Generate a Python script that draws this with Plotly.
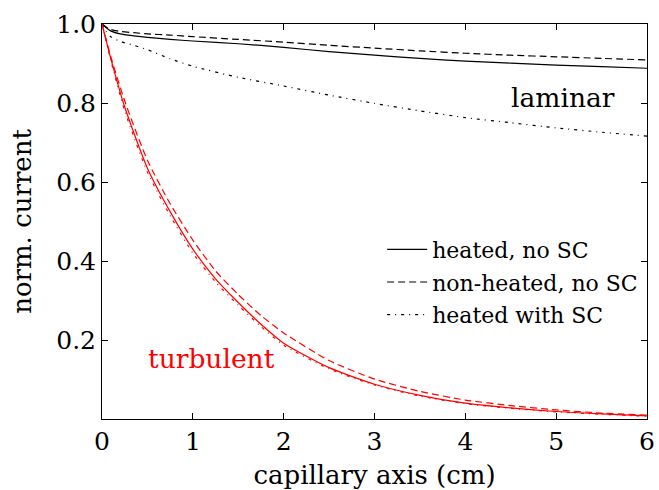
import plotly.graph_objects as go

# ---- data ----
x_lam = [0, 0.05, 0.1, 0.2, 0.35, 0.5, 0.75, 1, 1.5, 2, 2.5, 3, 3.5, 4, 4.5, 5, 5.5, 6]
heated_noSC = [1.0, 0.99, 0.982, 0.975, 0.970, 0.966, 0.961, 0.957, 0.950, 0.941, 0.930, 0.921, 0.913, 0.906, 0.901, 0.896, 0.892, 0.888]
nonheated_noSC = [1.0, 0.992, 0.986, 0.981, 0.978, 0.975, 0.972, 0.968, 0.961, 0.954, 0.946, 0.939, 0.932, 0.926, 0.921, 0.917, 0.913, 0.909]
heated_SC = [1.0, 0.98, 0.967, 0.956, 0.946, 0.935, 0.912, 0.893, 0.865, 0.843, 0.820, 0.799, 0.780, 0.763, 0.750, 0.737, 0.726, 0.716]

x_turb = [0, 0.1, 0.25, 0.5, 0.75, 1, 1.25, 1.5, 1.75, 2, 2.5, 3, 3.5, 4, 4.5, 5, 5.5, 6]
turb_heated_noSC = [1.0, 0.91, 0.79, 0.635, 0.525, 0.43, 0.355, 0.295, 0.24, 0.192, 0.13, 0.088, 0.06, 0.040, 0.028, 0.019, 0.013, 0.008]
turb_nonheated_noSC = [1.0, 0.915, 0.805, 0.655, 0.545, 0.453, 0.375, 0.315, 0.262, 0.218, 0.148, 0.101, 0.07, 0.048, 0.034, 0.023, 0.015, 0.010]
turb_heated_SC = [1.0, 0.905, 0.78, 0.625, 0.515, 0.42, 0.347, 0.288, 0.234, 0.187, 0.127, 0.086, 0.058, 0.039, 0.027, 0.018, 0.012, 0.007]

legend_names = ["heated, no SC", "non-heated, no SC", "heated with SC"]
x_ticks = [0, 1, 2, 3, 4, 5, 6]
y_ticks = [0.2, 0.4, 0.6, 0.8, 1.0]

FONT = "DejaVu Serif"
DASH = "7px,4px"
DASHDOT = "3px,5px,1px,5px"
styles = ["solid", DASH, DASHDOT]

fig = go.Figure()
for name, ys, dash in zip(legend_names, [heated_noSC, nonheated_noSC, heated_SC], styles):
    fig.add_trace(go.Scatter(x=x_lam, y=ys, mode="lines", name=name, legendgroup=name,
                             line=dict(color="black", width=1.2, dash=dash, shape="spline", smoothing=0.6)))
for name, ys, dash in zip(legend_names, [turb_heated_noSC, turb_nonheated_noSC, turb_heated_SC], styles):
    fig.add_trace(go.Scatter(x=x_turb, y=ys, mode="lines", name=name, showlegend=False,
                             line=dict(color="red", width=1.2, dash=dash, shape="spline", smoothing=0.6)))

fig.add_annotation(x=5.08, y=0.813, text="laminar", showarrow=False,
                   font=dict(family=FONT, size=26.5, color="black"))
fig.add_annotation(x=1.21, y=0.152, text="turbulent", showarrow=False,
                   font=dict(family=FONT, size=26.5, color="red"))

axis_common = dict(showline=True, linecolor="black", linewidth=1, mirror="ticks",
                   ticks="inside", ticklen=6, tickcolor="black", showgrid=False, zeroline=False,
                   tickfont=dict(family=FONT, size=25, color="black"), automargin=False)

fig.update_xaxes(range=[0, 6], tickvals=x_ticks, ticktext=[str(v) for v in x_ticks],
                 title=dict(text="capillary axis (cm)", font=dict(family=FONT, size=26, color="black"), standoff=23),
                 **axis_common)
fig.update_yaxes(range=[0, 1], tickvals=y_ticks, ticktext=[f"{v:.1f}" for v in y_ticks],
                 title=dict(text="norm. current", font=dict(family=FONT, size=26, color="black"), standoff=17),
                 **axis_common)

fig.update_layout(
    width=659, height=490,
    margin=dict(l=102, r=12, t=24, b=71),
    paper_bgcolor="white", plot_bgcolor="white",
    showlegend=True,
    font=dict(family=FONT, color="black"),
    legend=dict(x=0.514, y=0.482, xanchor="left", yanchor="top", bgcolor="rgba(0,0,0,0)",
                font=dict(family=FONT, size=22, color="black"), tracegroupgap=1,
                itemwidth=40),
)

fig.write_html("out.html")
